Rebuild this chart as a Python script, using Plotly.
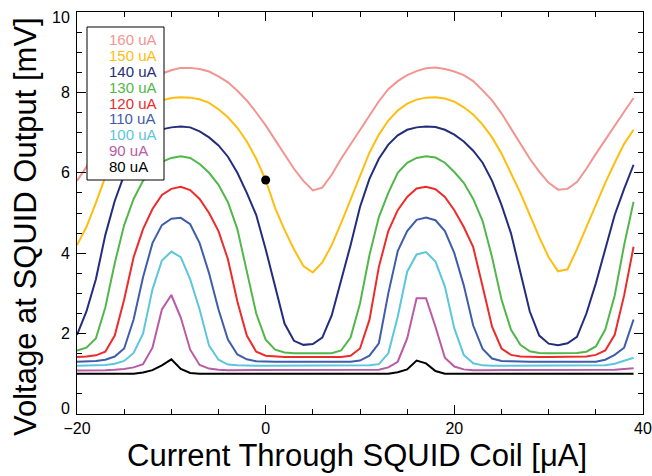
import plotly.graph_objects as go

# ---- data ----
coil_current = list(range(-20, 40))  # µA

bias_labels = ["160 uA", "150 uA", "140 uA", "130 uA", "120 uA",
               "110 uA", "100 uA", "90 uA", "80 uA"]

v160 = [5.80, 6.15, 6.50, 6.85, 7.20, 7.55, 7.88, 8.15, 8.33, 8.47,
        8.55, 8.61, 8.61, 8.58, 8.52, 8.40, 8.25, 8.04, 7.80, 7.50,
        7.18, 6.82, 6.47, 6.10, 5.80, 5.56, 5.63, 5.95, 6.35, 6.70,
        7.05, 7.40, 7.78, 8.08, 8.28, 8.43, 8.53, 8.60, 8.62, 8.58,
        8.52, 8.43, 8.28, 8.05, 7.80, 7.48, 7.10, 6.72, 6.35, 6.03,
        5.75, 5.58, 5.60, 5.77, 6.10, 6.47, 6.83, 7.18, 7.52, 7.86]

v150 = [4.20, 4.65, 5.25, 5.90, 6.45, 6.90, 7.25, 7.52, 7.70, 7.80,
        7.86, 7.88, 7.87, 7.83, 7.74, 7.58, 7.38, 7.12, 6.78, 6.35,
        5.82, 5.13, 4.58, 4.10, 3.68, 3.52, 3.77, 4.20, 4.75, 5.35,
        5.95, 6.50, 6.95, 7.30, 7.55, 7.72, 7.82, 7.87, 7.88, 7.85,
        7.77, 7.63, 7.45, 7.20, 6.88, 6.48, 5.99, 5.50, 4.95, 4.40,
        3.90, 3.55, 3.60, 4.10, 4.65, 5.20, 5.75, 6.25, 6.72, 7.07]

v140 = [1.97, 2.55, 3.35, 4.45, 5.30, 5.95, 6.45, 6.78, 6.97, 7.08,
        7.13, 7.15, 7.13, 7.03, 6.88, 6.68, 6.40, 6.00, 5.50, 4.95,
        4.10, 3.20, 2.25, 1.82, 1.72, 1.74, 1.90, 2.45, 3.30, 4.20,
        5.15, 5.85, 6.35, 6.70, 6.93, 7.07, 7.13, 7.15, 7.14, 7.07,
        6.95, 6.78, 6.55, 6.25, 5.80, 5.20, 4.50, 3.55, 2.55, 1.95,
        1.75, 1.71, 1.76, 1.92, 2.50, 3.25, 4.10, 4.95, 5.60, 6.20]

v130 = [1.58, 1.65, 1.88, 2.65, 3.75, 4.70, 5.35, 5.80, 6.08, 6.27,
        6.37, 6.41, 6.37, 6.22, 6.00, 5.70, 5.27, 4.60, 3.55, 2.50,
        1.85, 1.60, 1.53, 1.51, 1.51, 1.51, 1.51, 1.51, 1.58, 1.90,
        2.75, 3.95, 4.90, 5.50, 6.00, 6.25, 6.37, 6.41, 6.38, 6.25,
        6.02, 5.75, 5.35, 4.80, 3.90, 2.85, 2.10, 1.72, 1.56, 1.52,
        1.51, 1.51, 1.51, 1.52, 1.55, 1.68, 2.10, 2.95, 4.20, 5.28]

v120 = [1.42, 1.43, 1.46, 1.55, 1.95, 2.85, 3.90, 4.60, 5.10, 5.45,
        5.60, 5.65, 5.57, 5.35, 5.00, 4.55, 3.85, 2.80, 1.95, 1.55,
        1.45, 1.43, 1.42, 1.42, 1.42, 1.42, 1.42, 1.42, 1.42, 1.45,
        1.63, 2.34, 3.66, 4.55, 5.07, 5.40, 5.61, 5.65, 5.59, 5.40,
        5.07, 4.65, 4.15, 3.17, 2.17, 1.63, 1.47, 1.43, 1.42, 1.42,
        1.42, 1.42, 1.42, 1.42, 1.43, 1.47, 1.58, 1.97, 2.95, 4.16]

v110 = [1.30, 1.31, 1.32, 1.35, 1.43, 1.63, 2.35, 3.40, 4.25, 4.70,
        4.86, 4.88, 4.72, 4.25, 3.50, 2.60, 1.85, 1.48, 1.36, 1.31,
        1.30, 1.30, 1.30, 1.30, 1.30, 1.30, 1.30, 1.30, 1.30, 1.30,
        1.33, 1.45, 1.76, 3.00, 4.05, 4.55, 4.83, 4.89, 4.82, 4.55,
        4.00, 3.20, 2.20, 1.62, 1.38, 1.32, 1.31, 1.30, 1.30, 1.30,
        1.30, 1.30, 1.30, 1.30, 1.30, 1.30, 1.35, 1.47, 1.65, 2.35]

v100 = [1.20, 1.20, 1.21, 1.22, 1.25, 1.32, 1.52, 2.00, 3.10, 3.82,
        4.04, 3.90, 3.35, 2.60, 1.70, 1.35, 1.23, 1.21, 1.20, 1.20,
        1.20, 1.20, 1.20, 1.20, 1.20, 1.20, 1.20, 1.20, 1.20, 1.20,
        1.20, 1.21, 1.24, 1.51, 2.42, 3.54, 3.97, 4.03, 3.79, 3.17,
        2.13, 1.47, 1.26, 1.21, 1.20, 1.20, 1.20, 1.20, 1.20, 1.20,
        1.20, 1.20, 1.20, 1.20, 1.20, 1.20, 1.21, 1.25, 1.32, 1.40]

v90 = [1.08, 1.08, 1.09, 1.09, 1.10, 1.12, 1.16, 1.24, 1.65, 2.60,
       2.96, 2.40, 1.60, 1.22, 1.13, 1.10, 1.09, 1.09, 1.09, 1.09,
       1.09, 1.09, 1.09, 1.09, 1.09, 1.09, 1.09, 1.09, 1.09, 1.09,
       1.09, 1.09, 1.10, 1.16, 1.30, 1.88, 2.88, 2.88, 2.17, 1.40,
       1.18, 1.11, 1.09, 1.09, 1.09, 1.09, 1.09, 1.09, 1.09, 1.09,
       1.09, 1.09, 1.09, 1.09, 1.09, 1.09, 1.09, 1.10, 1.12, 1.14]

v80 = [1.00, 1.00, 1.00, 1.00, 1.00, 1.00, 1.00, 1.03, 1.09, 1.21,
       1.36, 1.12, 1.02, 1.00, 1.00, 1.00, 1.00, 1.00, 1.00, 1.00,
       1.00, 1.00, 1.00, 1.00, 1.00, 1.00, 1.00, 1.00, 1.00, 1.00,
       1.00, 1.00, 1.00, 1.00, 1.04, 1.11, 1.33, 1.26, 1.07, 1.00,
       1.00, 1.00, 1.00, 1.00, 1.00, 1.00, 1.00, 1.00, 1.00, 1.00,
       1.00, 1.00, 1.00, 1.00, 1.00, 1.00, 1.00, 1.00, 1.00, 1.00]

marker_x = [0.0]
marker_y = [5.82]

x_ticks = [-20, 0, 20, 40]
y_ticks = [0, 2, 4, 6, 8, 10]
y_tick_text = ["", "2", "4", "6", "8", ""]   # end labels drawn nudged inward

x_title = "Current Through SQUID Coil [μA]"
y_title = "Voltage at SQUID Output [mV]"

# ---- styling ----
series = [v160, v150, v140, v130, v120, v110, v100, v90, v80]
colors = ["#F29591", "#FDBE10", "#232D7C", "#52B74A", "#EE2B2B",
          "#3F5DAA", "#5CC6DB", "#B85BA5", "#000000"]
FONT = "Liberation Sans, Arial, Helvetica, sans-serif"

fig = go.Figure()
for ys, col, lab in zip(series, colors, bias_labels):
    assert len(ys) == len(coil_current)
    fig.add_trace(go.Scatter(x=coil_current, y=ys, mode="lines", name=lab,
                             line=dict(color=col, width=2), showlegend=False,
                             hoverinfo="skip"))

fig.add_trace(go.Scatter(x=marker_x, y=marker_y, mode="markers",
                         marker=dict(color="black", size=9),
                         showlegend=False, hoverinfo="skip"))

axis_common = dict(
    automargin=False,
    showgrid=False, zeroline=False, showline=True, linecolor="black",
    linewidth=1, mirror="allticks", ticks="inside", ticklen=9, tickwidth=1,
    tickcolor="black", tickfont=dict(family=FONT, size=16, color="black"),
    ticklabeloverflow="allow",
)

fig.update_xaxes(range=[-20, 40], tickvals=x_ticks, **axis_common,
                 minor=dict(tick0=-20, dtick=5, ticks="inside", ticklen=5,
                            tickcolor="black", tickwidth=1, showgrid=False))
fig.update_yaxes(range=[0, 10], tickvals=y_ticks, ticktext=y_tick_text,
                 ticklabelstandoff=3, **axis_common,
                 minor=dict(tick0=0, dtick=0.5, ticks="inside", ticklen=5,
                            tickcolor="black", tickwidth=1, showgrid=False))

# pixel helpers for the plot frame
L, T = 77, 12
W, H = 566, 402
def px(xp):
    return (xp - L) / W
def py(yp):
    return (T + H - yp) / H

# legend box (white, framed) with coloured text entries
fig.add_shape(type="rect", xref="paper", yref="paper",
              x0=px(87), x1=px(164), y0=py(180), y1=py(27),
              line=dict(color="black", width=1), fillcolor="white",
              layer="above")

annotations = []
for i, (lab, col) in enumerate(zip(bias_labels, colors)):
    annotations.append(dict(
        text=lab, xref="paper", yref="paper", x=px(107), y=py(39.5 + i * 15.9),
        xanchor="left", yanchor="middle", showarrow=False,
        font=dict(family=FONT, size=15, color=col)))

# end y labels (nudged inward like the original)
annotations.append(dict(
    text=str(y_ticks[0]), xref="paper", yref="paper", x=px(72), y=py(408),
    xanchor="right", yanchor="middle", showarrow=False,
    font=dict(family=FONT, size=16, color="black")))
annotations.append(dict(
    text=str(y_ticks[-1]), xref="paper", yref="paper", x=px(72), y=py(17),
    xanchor="right", yanchor="middle", showarrow=False,
    font=dict(family=FONT, size=16, color="black")))

annotations.append(dict(
    text=x_title, xref="paper", yref="paper", x=px(357), y=py(455),
    xanchor="center", yanchor="middle", showarrow=False,
    font=dict(family=FONT, size=31, color="black")))
annotations.append(dict(
    text=y_title, xref="paper", yref="paper", x=px(26), y=py(227),
    xanchor="center", yanchor="middle", showarrow=False, textangle=-90,
    font=dict(family=FONT, size=31, color="black")))

fig.update_layout(
    width=652, height=476,
    margin=dict(l=77, r=9, t=12, b=62, pad=0, autoexpand=False),
    paper_bgcolor="white", plot_bgcolor="white",
    annotations=annotations,
    font=dict(family=FONT, color="black"),
)

fig.write_html(
    "out.html",
    config={"displayModeBar": False, "staticPlot": True},
    post_script="document.body.style.margin='0px';"
                "document.body.style.padding='0px';"
                "document.body.style.overflow='hidden';",
)
